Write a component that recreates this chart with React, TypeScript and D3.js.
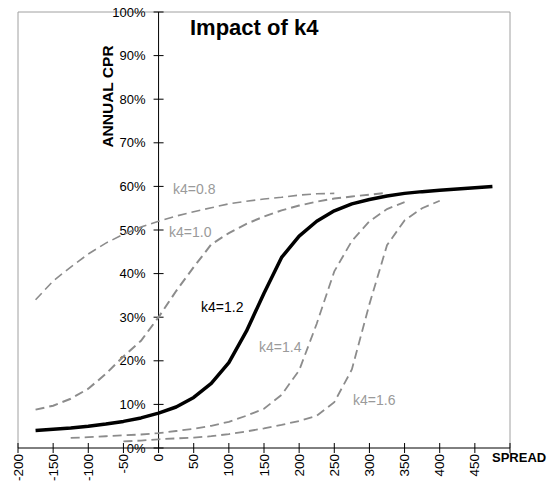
import React from "react";
import * as d3 from "d3";

const SPREAD = [-175, -150, -125, -100, -75, -50, -25, 0, 25, 50, 75, 100, 125, 150, 175, 200, 225, 250, 275, 300, 325, 350, 375, 400, 425, 450, 475];

const K4_08 = [34, 38.3, 41.5, 44.5, 47, 49, 50.7, 52, 53.2, 54.2, 55.1, 56, 56.6, 57.1, 57.5, 58, 58.3, 58.4, null, null, null, null, null, null, null, null, null];
const K4_10 = [8.8, 9.7, 11.3, 13.6, 17, 21, 24.6, 30, 36, 41.5, 46.7, 49.3, 51.4, 53.1, 54.5, 55.6, 56.5, 57.2, 57.7, 58.1, 58.5, null, null, null, null, null, null];
const K4_12 = [4, 4.3, 4.6, 5.0, 5.5, 6.1, 6.9, 8.0, 9.4, 11.6, 14.8, 19.6, 26.8, 35.5, 43.7, 48.6, 52, 54.4, 56, 57, 57.8, 58.4, 58.8, 59.1, 59.4, 59.7, 60];
const K4_14 = [null, null, 2.3, 2.5, 2.7, 2.9, 3.1, 3.4, 3.9, 4.4, 5.1, 6.0, 7.4, 9.0, 12.2, 17.8, 28.5, 40.5, 47.5, 52, 54.8, 56.4, null, null, null, null, null];
const K4_16 = [null, null, null, null, null, 1.5, 1.7, 2.0, 2.2, 2.4, 2.7, 3.2, 3.8, 4.5, 5.3, 6.2, 7.4, 10.5, 18, 33, 46.5, 52.2, 55, 56.7, null, null, null];

const SERIES_NAMES = ["k4=0.8", "k4=1.0", "k4=1.2", "k4=1.4", "k4=1.6"];
const X_TICKS = [-200, -150, -100, -50, 0, 50, 100, 150, 200, 250, 300, 350, 400, 450, 500];
const X_LABELS = ["-200", "-150", "-100", "-50", "0", "50", "100", "150", "200", "250", "300", "350", "400", "450", ""];
const Y_TICKS = [0, 10, 20, 30, 40, 50, 60, 70, 80, 90, 100];
const Y_LABELS = ["0%", "10%", "20%", "30%", "40%", "50%", "60%", "70%", "80%", "90%", "100%"];

const TITLE = "Impact of k4";
const X_TITLE = "SPREAD";
const Y_TITLE = "ANNUAL CPR";

const FONT = "'Liberation Sans', Arial, sans-serif";

export default function App() {
  const W = 550;
  const H = 488;
  const x = d3.scaleLinear().domain([-200, 500]).range([18, 510]);
  const y = d3.scaleLinear().domain([0, 100]).range([448, 12]);

  const makeLine = (vals: (number | null)[]) =>
    d3
      .line<number>()
      .defined((_, i) => vals[i] != null)
      .x((_, i) => x(SPREAD[i]))
      .y((_, i) => y(vals[i] as number))
      .curve(d3.curveLinear)(SPREAD);

  const gray = "#8c8c8c";
  const labelGray = "#9a9a9a";

  const series = [
    { vals: K4_08, color: gray, width: 1.6, dash: "9,5", label: SERIES_NAMES[0], lx: 173, ly: 194, lc: labelGray },
    { vals: K4_10, color: gray, width: 2, dash: "9,5", label: SERIES_NAMES[1], lx: 169, ly: 237, lc: labelGray },
    { vals: K4_14, color: gray, width: 1.8, dash: "9,5", label: SERIES_NAMES[3], lx: 259, ly: 352, lc: labelGray },
    { vals: K4_16, color: gray, width: 1.8, dash: "9,5", label: SERIES_NAMES[4], lx: 353, ly: 405, lc: labelGray },
  ];

  return (
    <svg
      width={W}
      height={H}
      style={{ position: "absolute", left: 0, top: 0, background: "#fff" }}
      fontFamily={FONT}
    >
      <rect x={0} y={0} width={W} height={H} fill="#fff" />
      {/* plot border */}
      <path
        d={`M${x(-200)},${y(0)}V${y(100)}H${x(500)}V${y(0)}`}
        fill="none"
        stroke="#a0a0a0"
        strokeWidth={1}
      />
      {/* y axis */}
      <line x1={x(0)} x2={x(0)} y1={y(0)} y2={y(100)} stroke="#000" strokeWidth={1} />
      {Y_TICKS.map((t, i) => (
        <g key={"y" + t}>
          <line x1={x(0) - 5} x2={x(0) + 5} y1={y(t)} y2={y(t)} stroke="#000" strokeWidth={1} />
          <text x={x(0) - 13} y={y(t)} textAnchor="end" dominantBaseline="central" fontSize={13} fill="#000">
            {Y_LABELS[i]}
          </text>
        </g>
      ))}
      {/* x axis */}
      <line x1={x(-200)} x2={x(500)} y1={y(0)} y2={y(0)} stroke="#000" strokeWidth={1} />
      {X_TICKS.map((t, i) => (
        <g key={"x" + t}>
          <line x1={x(t)} x2={x(t)} y1={y(0) - 5} y2={y(0) + 5} stroke="#000" strokeWidth={1} />
          <text
            transform={`translate(${x(t)},${y(0) + 6}) rotate(-90)`}
            textAnchor="end"
            dominantBaseline="central"
            fontSize={13.5}
            fill="#000"
          >
            {X_LABELS[i]}
          </text>
        </g>
      ))}
      {/* lines */}
      {series.map((s) => (
        <path
          key={s.label}
          d={makeLine(s.vals) || ""}
          fill="none"
          stroke={s.color}
          strokeWidth={s.width}
          strokeDasharray={s.dash}
        />
      ))}
      <path d={makeLine(K4_12) || ""} fill="none" stroke="#000" strokeWidth={3.5} strokeLinejoin="round" />
      {/* series labels */}
      {series.map((s) => (
        <text key={"l" + s.label} x={s.lx} y={s.ly} fontSize={14} fill={s.lc}>
          {s.label}
        </text>
      ))}
      <text x={201} y={312} fontSize={14} fill="#000">
        {SERIES_NAMES[2]}
      </text>
      {/* titles */}
      <text x={190} y={35} fontSize={22} fontWeight="bold" fill="#000">
        {TITLE}
      </text>
      <text x={492} y={462} fontSize={13} fontWeight="bold" fill="#000">
        {X_TITLE}
      </text>
      <text
        transform={`translate(113,96.5) rotate(-90)`}
        textAnchor="middle"
        fontSize={15.5}
        fontWeight="bold"
        fill="#000"
      >
        {Y_TITLE}
      </text>
    </svg>
  );
}
